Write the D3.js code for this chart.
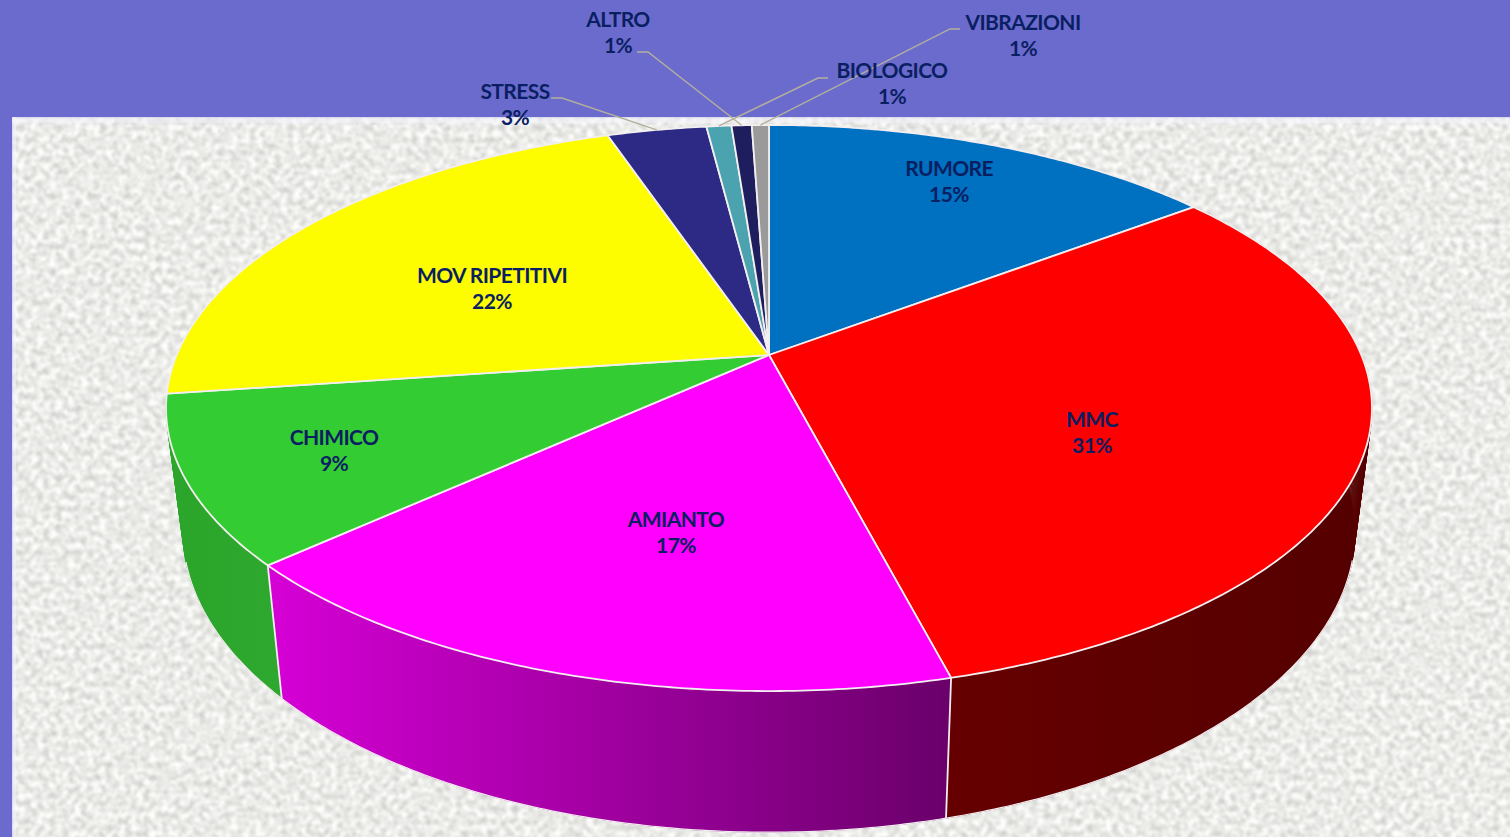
<!DOCTYPE html>
<html>
<head>
<meta charset="utf-8">
<script src="https://cdn.jsdelivr.net/npm/d3@7"></script>
<style>
  html, body { margin: 0; padding: 0; background: #6b6bce; }
  svg { display: block; }
</style>
</head>
<body>
<div id="chart"></div>
<script>
// values, clockwise from 12 o'clock
var categories = ["RUMORE", "MMC", "AMIANTO", "CHIMICO", "MOV RIPETITIVI", "STRESS", "BIOLOGICO", "ALTRO", "VIBRAZIONI"]
var shares = [14.7, 31.25, 17.3, 9.55, 22.0, 3.2, 0.8, 0.65, 0.55]
var percentLabels = ["15%", "31%", "17%", "9%", "22%", "3%", "1%", "1%", "1%"]

var topColors = ["#0070c0", "#ff0000", "#ff00ff", "#33cc33", "#fdfd00", "#2c2a85", "#4aa3af", "#1e1e5e", "#9a9a9a"]

// label centre (x, y of the first line), and elbow of the leader if it has one
var labelLayout = {
  "RUMORE": {x: 949, y: 169},
  "MMC": {x: 1092, y: 420},
  "AMIANTO": {x: 676, y: 520},
  "CHIMICO": {x: 334, y: 438},
  "MOV RIPETITIVI": {x: 492, y: 276},
  "STRESS": {x: 515, y: 92, leader: [[551, 98], [562, 98]]},
  "BIOLOGICO": {x: 892, y: 71, leader: [[828, 78], [818, 78]]},
  "ALTRO": {x: 618, y: 20, leader: [[637, 52], [648, 52]]},
  "VIBRAZIONI": {x: 1023, y: 23, leader: [[960, 29], [950, 29]]}
}

var width = 1510, height = 837

var svg = d3.select("#chart")
  .append("svg")
  .attr("width", width)
  .attr("height", height)

var defs = svg.append("defs")

// speckled paper behind the pie
var paper = defs.append("filter")
  .attr("id", "paper")
  .attr("color-interpolation-filters", "sRGB")
  .attr("x", 0).attr("y", 0).attr("width", "100%").attr("height", "100%")
paper.append("feTurbulence")
  .attr("type", "fractalNoise")
  .attr("baseFrequency", 0.16)
  .attr("numOctaves", 3)
  .attr("seed", 7)
paper.append("feColorMatrix")
  .attr("type", "matrix")
  .attr("values", "0.36 0 0 0 0.74  0.36 0 0 0 0.74  0.36 0 0 0 0.73  0 0 0 0 1")
paper.append("feGaussianBlur")
  .attr("stdDeviation", 0.8)

function sideGradient(id, x1, x2, c1, c2) {
  var g = defs.append("linearGradient")
    .attr("id", id)
    .attr("gradientUnits", "userSpaceOnUse")
    .attr("x1", x1).attr("x2", x2)
    .attr("y1", 0).attr("y2", 0)
  g.append("stop").attr("offset", 0).attr("stop-color", c1)
  g.append("stop").attr("offset", 1).attr("stop-color", c2)
}
sideGradient("side-mag", 267, 950, "#d600d6", "#6a006a")
sideGradient("side-red", 950, 1372, "#660000", "#540000")
sideGradient("side-green", 170, 281, "#2aa52a", "#2ea82e")

var sideFills = {
  "MMC": "url(#side-red)",
  "AMIANTO": "url(#side-mag)",
  "CHIMICO": "url(#side-green)"
}

svg.append("rect").attr("width", width).attr("height", height).attr("fill", "#6b6bce")
// runs past the page edge so the blur does not show on the right and bottom
svg.append("rect")
  .attr("x", 12).attr("y", 117)
  .attr("width", width).attr("height", height)
  .attr("fill", "#eee")
  .attr("filter", "url(#paper)")
// paler edge along the top and left of the paper
svg.append("rect")
  .attr("x", 12).attr("y", 117)
  .attr("width", width - 12).attr("height", 6)
  .attr("fill", "#f4f2fb").attr("opacity", 0.55)
svg.append("rect")
  .attr("x", 12).attr("y", 117)
  .attr("width", 4).attr("height", height - 117)
  .attr("fill", "#f4f2fb").attr("opacity", 0.55)

// tilted disc: the pie centre sits above the middle of the ellipse
var cx = 769, cy = 355
var persp = 0.1873, radX = 592.3, radY = 273.1

function project(a) {
  var sx = Math.sin(a), sy = -Math.cos(a)
  var w = 1 - persp * sy
  return [radX * sx / w, radY * sy / w]
}
function topPoint(a) {
  var p = project(a)
  return [cx + p[0], cy + p[1]]
}
function bottomPoint(a) {
  var p = project(a)
  return [cx + 0.972 * p[0], cy + 1.063 * p[1] + 120]
}
function sweep(d) {
  return d3.range(d.startAngle, d.endAngle, 0.01).concat([d.endAngle])
}

var pie = d3.pie()
  .sort(null)
  .value(function(d) { return d.share })
  .startAngle(0)
  .endAngle(2 * Math.PI)

var slices = pie(categories.map(function(c, i) {
  return {name: c, share: shares[i], color: topColors[i], pct: percentLabels[i]}
}))

var line = d3.line()
var walls = slices.filter(function(d) { return sideFills[d.data.name] })

// outer wall: one quad per step so the silhouette between the two rims is filled
svg.append("g").selectAll("path")
  .data(walls)
  .join("path")
  .attr("d", function(d) {
    return d3.pairs(sweep(d)).map(function(s) {
      return line([topPoint(s[0]), topPoint(s[1]), bottomPoint(s[1]), bottomPoint(s[0])]) + "Z"
    }).join("")
  })
  .attr("fill", function(d) { return sideFills[d.data.name] })
  .attr("stroke", function(d) { return sideFills[d.data.name] })
  .attr("stroke-width", 0.6)

// lower rim (only the part on the outline), and the seams where two walls meet
svg.append("g").selectAll("path")
  .data(walls)
  .join("path")
  .attr("d", function(d) {
    return line(sweep(d).map(bottomPoint).filter(function(p) { return p[1] > 560 }))
  })
  .attr("fill", "none")
  .attr("stroke", "#f3ecf0")
  .attr("stroke-width", 1.2)
svg.append("g").selectAll("path")
  .data(walls.slice(1))
  .join("path")
  .attr("d", function(d) { return line([topPoint(d.startAngle), bottomPoint(d.startAngle)]) })
  .attr("stroke", "#f3ecf0")
  .attr("stroke-width", 1.8)

svg.append("g").selectAll("path")
  .data(slices)
  .join("path")
  .attr("d", function(d) {
    return line([[cx, cy]].concat(sweep(d).map(topPoint))) + "Z"
  })
  .attr("fill", function(d) { return d.data.color })
  .attr("stroke", "#f3eef0")
  .attr("stroke-width", 1.8)
  .attr("stroke-linejoin", "round")

// leader lines for the outside labels
svg.append("g").selectAll("path")
  .data(slices.filter(function(d) { return labelLayout[d.data.name].leader }))
  .join("path")
  .attr("d", function(d) {
    var end = topPoint((d.startAngle + d.endAngle) / 2)
    return line(labelLayout[d.data.name].leader.concat([end]))
  })
  .attr("fill", "none")
  .attr("stroke", "#b3b09c")
  .attr("stroke-width", 1.4)

var labels = svg.append("g")
  .attr("font-family", "Lato, sans-serif")
  .attr("font-weight", 700)
  .attr("font-size", 21)
  .attr("letter-spacing", -0.6)
  .attr("fill", "#0a1f62")
  .attr("text-anchor", "middle")
  .selectAll("text")
  .data(slices)
  .join("text")
  .attr("transform", function(d) {
    var l = labelLayout[d.data.name]
    return "translate(" + l.x + "," + l.y + ")"
  })

labels.append("tspan")
  .attr("x", 0)
  .attr("y", 7)
  .text(function(d) { return d.data.name })
labels.append("tspan")
  .attr("x", 0)
  .attr("y", 33)
  .text(function(d) { return d.data.pct })
</script>
</body>
</html>
